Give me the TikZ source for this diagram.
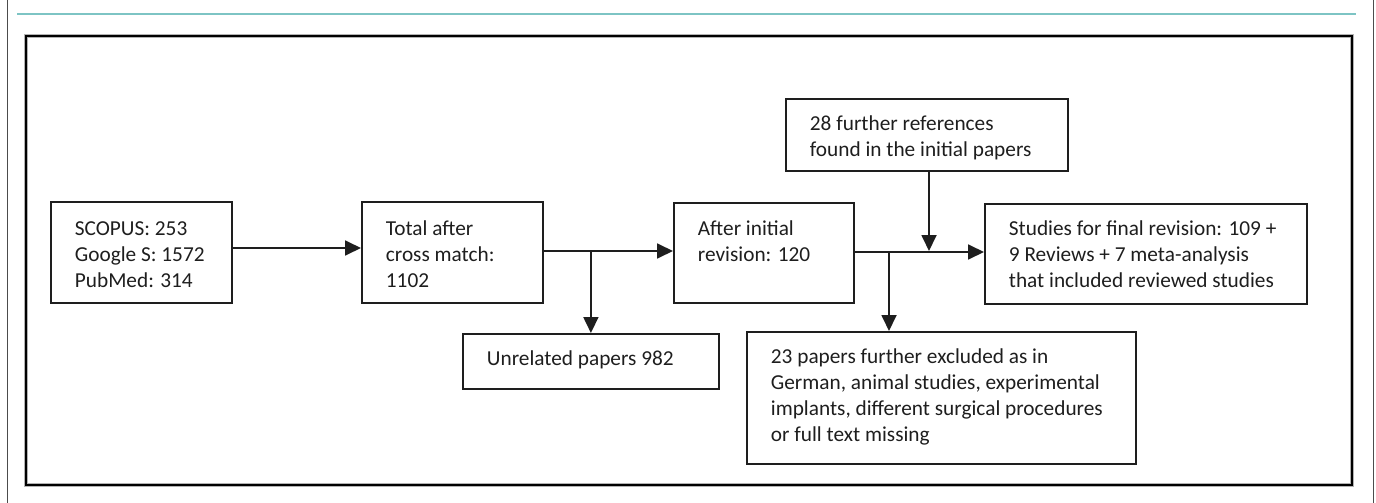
\documentclass[tikz,border=0pt]{standalone}
\usepackage{fontspec}
\setmainfont{Carlito}
\usetikzlibrary{arrows.meta,calc}
\newcommand\bxt[4]{\parbox[c][#2pt][t]{#1pt}{\leftskip=24pt\rightskip=0pt plus 1fil\parindent=0pt\rule{0pt}{#3pt}#4\par}}
\definecolor{teal1}{RGB}{125,196,196}
\definecolor{ink}{RGB}{30,30,30}
\tikzset{
  box/.style={draw=ink, line width=1.8pt, inner sep=0pt, anchor=north west, text=ink,
    font=\fontsize{21.3}{26}\selectfont},
  arr/.style={draw=ink, line width=1.8pt, -{Triangle[length=16pt,width=15pt]}},
  ln/.style={draw=ink, line width=1.8pt}
}
\begin{document}
\begin{tikzpicture}[x=1pt,y=-1pt]
\useasboundingbox (0,0) rectangle (1376,503);
% page furniture
\draw[black!70, line width=0.9pt] (7,0) -- (7,503);
\draw[black!70, line width=0.9pt] (1373,0) -- (1373,503);
\draw[teal1, line width=2pt] (17,14) -- (1356,14);
% frame
\draw[black!30, line width=4.6pt] (26,36) rectangle (1352,485);
\draw[black, line width=2.6pt] (26,36) rectangle (1352,485);
% boxes
\node[box] (A) at (50,201) {\bxt{181}{101}{34}{SCOPUS: 253\\Google S: 1572\\PubMed: 314}};
\node[box] (B) at (361,201) {\bxt{181}{101}{34}{Total after\\cross match:\\1102}};
\node[box] (C) at (673,202) {\bxt{180}{100}{33}{After initial\\revision: 120}};
\node[box] (D) at (984,203) {\bxt{322}{100}{32}{Studies for final revision: 109 +\\9 Reviews + 7 meta-analysis\\that included reviewed studies}};
\node[box] (E) at (785,98) {\bxt{282}{72}{32}{28 further references\\found in the initial papers}};
\node[box] (F) at (462,333) {\bxt{256}{55}{32}{Unrelated papers 982}};
\node[box] (G) at (746,331) {\bxt{389}{132}{32}{23 papers further excluded as in\\German, animal studies, experimental\\implants, different surgical procedures\\or full text missing}};
% connectors
\draw[arr] (A.east |- 0,248) -- (B.west |- 0,248);
\draw[arr] (B.east |- 0,251) -- (C.west |- 0,251);
\coordinate (j1) at (F.north |- 0,251);
\draw[arr] (j1) -- (F.north);
\draw[arr] (C.east |- 0,252) -- (D.west |- 0,252);
\coordinate (j2) at (889,252);
\draw[arr] (j2) -- (j2 |- G.north);
\coordinate (j3) at (929,251);
\draw[arr] (E.south -| j3) -- (j3);
\end{tikzpicture}
\end{document}
